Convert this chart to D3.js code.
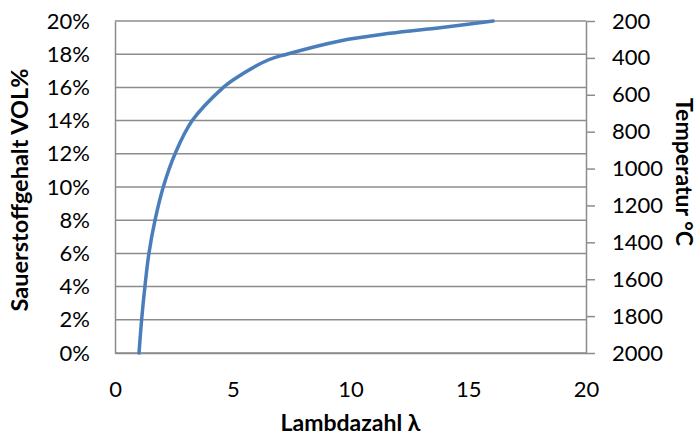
<!DOCTYPE html>
<html>
<head>
<meta charset="utf-8">
<script src="https://cdn.jsdelivr.net/npm/d3@7"></script>
<style>
  html, body { margin: 0; padding: 0; background: #fff; }
  svg { display: block; font-family: Lato, "Open Sans", sans-serif; }
</style>
</head>
<body>
<svg id="chart" width="700" height="437"></svg>
<script>
// Lambda (air ratio) and residual oxygen content in the flue gas
const lambdaValues = [1.02, 1.13, 1.27, 1.44, 1.70, 2.05, 2.55, 3.28, 4.60, 5.01, 6.50, 7.29, 9.55, 11.68, 13.8, 16.06];
const oxygenPercent = [0, 2, 4, 6, 8, 10, 12, 14, 16, 16.45, 17.65, 18, 18.80, 19.26, 19.6, 20];

const xTicks = [0, 5, 10, 15, 20];
const oxygenTicks = [0, 2, 4, 6, 8, 10, 12, 14, 16, 18, 20];
const temperatureTicks = [200, 400, 600, 800, 1000, 1200, 1400, 1600, 1800, 2000];

const xTitle = "Lambdazahl λ";
const yTitle = "Sauerstoffgehalt VOL%";
const y2Title = "Temperatur °C";

const svg = d3.select("#chart");
const plot = { left: 115, right: 586, top: 21, bottom: 353 };
const gridColor = "#8c8c8c";
const textColor = "#000";

const x = d3.scaleLinear().domain([0, 20]).range([plot.left, plot.right]);
const y = d3.scaleLinear().domain([0, 20]).range([plot.bottom, plot.top]);
const y2 = d3.scaleLinear().domain([200, 2000]).range([plot.top, plot.bottom]);

// horizontal gridlines
svg.append("g")
  .selectAll("line")
  .data(oxygenTicks)
  .join("line")
  .attr("x1", plot.left).attr("x2", plot.right)
  .attr("y1", d => y(d)).attr("y2", d => y(d))
  .attr("stroke", gridColor).attr("stroke-width", 1.5);

// left axis
const leftAxis = svg.append("g")
  .attr("transform", `translate(${plot.left},0)`)
  .call(d3.axisLeft(y).tickValues(oxygenTicks).tickFormat(d => d + "%").tickSize(0).tickPadding(25));
leftAxis.select(".domain").attr("stroke", gridColor).attr("stroke-width", 1.5);

// bottom axis
const bottomAxis = svg.append("g")
  .attr("transform", `translate(0,${plot.bottom})`)
  .call(d3.axisBottom(x).tickValues(xTicks).tickSize(0).tickPadding(28));
bottomAxis.select(".domain").attr("stroke", gridColor).attr("stroke-width", 1.5);

// right (temperature) axis
const rightAxis = svg.append("g")
  .attr("transform", `translate(${plot.right},0)`)
  .call(d3.axisRight(y2).tickValues(temperatureTicks).tickFormat(d3.format("d"))
    .tickSizeInner(9).tickSizeOuter(0).tickPadding(17));
rightAxis.select(".domain").attr("stroke", gridColor).attr("stroke-width", 1.5);
rightAxis.selectAll(".tick line").attr("stroke", gridColor).attr("stroke-width", 1.5);

svg.selectAll(".tick text")
  .attr("font-family", "Lato, 'Open Sans', sans-serif")
  .attr("font-size", 22)
  .attr("fill", textColor);

// oxygen curve
const line = d3.line()
  .x((d, i) => x(lambdaValues[i]))
  .y(d => y(d))
  .curve(d3.curveCatmullRom.alpha(0.5));

svg.append("path")
  .datum(oxygenPercent)
  .attr("d", line)
  .attr("fill", "none")
  .attr("stroke", "#4a7ebb")
  .attr("stroke-width", 3.5)
  .attr("stroke-linecap", "round");

// axis titles
svg.append("text")
  .attr("x", (plot.left + plot.right) / 2)
  .attr("y", 431)
  .attr("text-anchor", "middle")
  .attr("font-size", 23).attr("font-weight", "bold")
  .attr("fill", textColor)
  .text(xTitle);

svg.append("text")
  .attr("transform", `translate(28,190) rotate(-90)`)
  .attr("text-anchor", "middle")
  .attr("font-size", 23.5).attr("font-weight", "bold")
  .attr("fill", textColor)
  .text(yTitle);

svg.append("text")
  .attr("transform", `translate(676,172) rotate(90)`)
  .attr("text-anchor", "middle")
  .attr("font-size", 23).attr("font-weight", "bold")
  .attr("fill", textColor)
  .text(y2Title);
</script>
</body>
</html>
